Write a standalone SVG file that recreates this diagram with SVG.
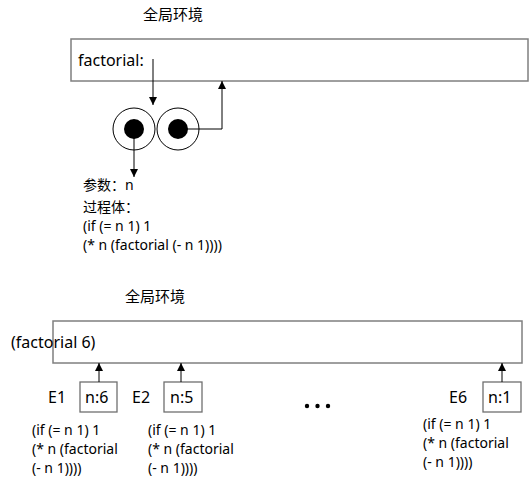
<svg xmlns="http://www.w3.org/2000/svg" width="530" height="486" viewBox="0 0 530 486">
<style>
text{font-family:"Noto Sans","Noto Sans CJK SC",sans-serif;fill:#000}
.t{font-size:15px}
.l{font-size:16px}
.c{font-size:14px}
.env{fill:#fff;stroke:#7f7f7f;stroke-width:1.5}
.box{fill:#fff;stroke:#6f6f6f;stroke-width:1.3}
.ln{fill:none;stroke:#000;stroke-width:1}
</style>
<defs>
<marker id="ah" viewBox="0 0 10 10" refX="10" refY="5" markerWidth="8" markerHeight="8" markerUnits="userSpaceOnUse" orient="auto">
<path d="M0,0L10,5L0,10z" fill="#000"/>
</marker>
</defs>
<rect width="530" height="486" fill="#fff"/>
<g id="global-env-1">
<text class="t" x="143" y="20">全局环境</text>
<rect class="env" x="71" y="39" width="457" height="42"/>
<text class="l" x="78" y="66">factorial:</text>
</g>
<g id="procedure">
<circle cx="134" cy="129" r="21" fill="#fff" stroke="#000" stroke-width="1"/>
<circle cx="134" cy="129" r="10" fill="#000"/>
<circle cx="178" cy="129" r="21" fill="#fff" stroke="#000" stroke-width="1"/>
<circle cx="178" cy="129" r="10" fill="#000"/>
</g>
<g id="proc-text">
<text class="c" x="83" y="190">参数：n</text>
<text class="c" x="83" y="212">过程体：</text>
<text class="c" x="83" y="231">(if (= n 1) 1</text>
<text class="c" x="83" y="250">(* n (factorial (- n 1))))</text>
</g>
<g id="global-env-2">
<text class="t" x="125" y="302">全局环境</text>
<rect class="env" x="53" y="321" width="469" height="42"/>
<text class="l" x="11" y="348">(factorial 6)</text>
</g>
<g id="E1">
<text class="l" x="48" y="403">E1</text>
<rect class="box" x="80" y="382" width="37" height="30"/>
<text class="l" x="85" y="403">n:6</text>
<text class="c" x="32" y="435">(if (= n 1) 1</text>
<text class="c" x="32" y="454">(* n (factorial</text>
<text class="c" x="32" y="473">(- n 1))))</text>
</g>
<g id="E2">
<text class="l" x="132" y="403">E2</text>
<rect class="box" x="164" y="382" width="38" height="30"/>
<text class="l" x="170" y="403">n:5</text>
<text class="c" x="148" y="435">(if (= n 1) 1</text>
<text class="c" x="148" y="454">(* n (factorial</text>
<text class="c" x="148" y="473">(- n 1))))</text>
</g>
<g id="ellipsis">
<circle cx="307" cy="406" r="2.2" fill="#000"/>
<circle cx="317.5" cy="406" r="2.2" fill="#000"/>
<circle cx="328" cy="406" r="2.2" fill="#000"/>
</g>
<g id="E6">
<text class="l" x="449" y="403">E6</text>
<rect class="box" x="483" y="382" width="38" height="30"/>
<text class="l" x="488" y="403">n:1</text>
<text class="c" x="423" y="429">(if (= n 1) 1</text>
<text class="c" x="423" y="448">(* n (factorial</text>
<text class="c" x="423" y="467">(- n 1))))</text>
</g>
<g id="connectors">
<path class="ln" d="M153,59V105" marker-end="url(#ah)"/>
<path class="ln" d="M178,129H222V81" marker-end="url(#ah)"/>
<path class="ln" d="M134,129V177" marker-end="url(#ah)"/>
<path class="ln" d="M99,382V363" marker-end="url(#ah)"/>
<path class="ln" d="M181,382V363" marker-end="url(#ah)"/>
<path class="ln" d="M502,382V363" marker-end="url(#ah)"/>
</g>
</svg>
